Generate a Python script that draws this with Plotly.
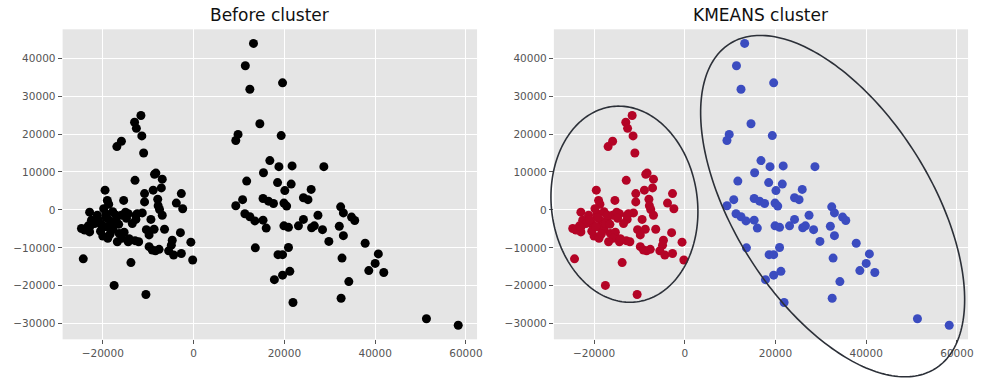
import numpy as np
import plotly.graph_objects as go

# Two groups of points (PCA-style coordinates), first group: compact cloud on the left
group_a_x = [-11600, -13000, -12600, -11400, -15900, -16900, -11000, -8300, -8600, -6900,
             -12900, -7100, -19500, -8900, -2700, -10800, -7900, -19000, -15400, -10800,
             -3800, -18700, -7800, -2400, -7500, -22900, -11300, -21200, -19300, -17800,
             -14400, -12400, -6900, -15900, -18900, -22500, -12700, -9400, -17100, -18200,
             -20400, -24700, -23600, -22900, -24000, -13500, -10400, -8700, -6400, -18900,
             -17800, -20000, -18900, -16400, -15300, -15800, -14400, -12900, -12100, -9800,
             -2900, -4700, -9800, -8400, -7600, -5500, -4400, -2700, -600, -24300,
             -200, -13800, -17500, -10500, -17100, -15000, -21800, -22900, -19300, -18000,
             -17500, -14200, -12700, -9100, -4900, -20500, -16500, -19800, -21000, -16800,
             -14800, -19600, -23200, -18400]
group_a_y = [24900, 23100, 21500, 19500, 18100, 16700, 15000, 9700, 9400, 8100,
             7800, 5800, 5200, 5200, 4300, 4300, 2800, 2500, 2500, 2100,
             1800, 1500, 1100, 300, 100, -600, -800, -1400, -1000, -500,
             -1000, -1000, -1400, -1400, -2300, -2700, -2500, -2500, -3000, -3100,
             -3800, -4900, -4900, -5800, -5300, -3600, -5200, -5100, -5100, -4500,
             -5200, -6900, -7500, -6200, -5900, -7500, -8400, -8100, -8400, -6600,
             -6000, -8000, -9700, -10800, -10400, -10800, -11900, -11500, -8500, -12900,
             -13200, -13900, -19900, -22300, -1400, -600, -3600, -4500, -2000, -4000,
             -3600, -7600, -1400, -10600, -9300, -5600, -3800, 300, -2600, -8400,
             -2200, -4400, -4200, -6400]

# Second group: wider cloud stretching to the lower right
group_b_x = [13200, 11400, 12400, 19600, 14600, 9800, 9300, 19300, 16800, 18800,
             21700, 28700, 15400, 11700, 18500, 21500, 20100, 25900, 24200, 25200,
             10800, 15300, 16500, 17600, 19900, 20500, 9300, 32400, 33000, 11300,
             12400, 13500, 15300, 16000, 19900, 20900, 23100, 24200, 27400, 26000,
             26600, 28400, 34800, 35500, 32100, 33000, 29800, 37800, 13600, 20900,
             32700, 40700, 40000, 18600, 19600, 38600, 41900, 21200, 19600, 17800,
             34200, 32500, 21900, 51300, 58300]
group_b_y = [43900, 38000, 31800, 33500, 22700, 19900, 18300, 19600, 13000, 11400,
             11600, 11400, 9800, 7600, 7200, 6800, 5100, 5400, 3200, 2700,
             2700, 3000, 2300, 1700, 1800, 1000, 1100, 800, -800, -1000,
             -1800, -2900, -2700, -4800, -4200, -4600, -4200, -2500, -1400, -4700,
             -4200, -5200, -1900, -2800, -4300, -6800, -8300, -8800, -10000, -9900,
             -12700, -11600, -14100, -11800, -11800, -16000, -16500, -16200, -17200, -18400,
             -18900, -23300, -24400, -28700, -30400]

# Outline drawn around each k-means group: centre, half extents and correlation
outline_a = dict(cx=-13300, cy=1500, hx=16200, hy=25850, rho=-0.075)
outline_b = dict(cx=32600, cy=1000, hx=29100, hy=45000, rho=-0.548)

x_ticks = [-20000, 0, 20000, 40000, 60000]
y_ticks = [-30000, -20000, -10000, 0, 10000, 20000, 30000, 40000]

titles = ["Before cluster", "KMEANS cluster"]

BG = "#E5E5E5"
TICK_COLOR = "#555555"
RED = "#B40426"
BLUE = "#3B4CC0"
W, H = 981, 378

all_x = np.array(group_a_x + group_b_x, dtype=float)
all_y = np.array(group_a_y + group_b_y, dtype=float)


def padded(v, frac=0.05):
    lo, hi = v.min(), v.max()
    pad = (hi - lo) * frac
    return [lo - pad, hi + pad]


x_range = padded(all_x)
y_range = padded(all_y)

dom_y = [1 - 339.3 / H, 1 - 29.3 / H]
dom_x1 = [63.0 / W, 480.0 / W]
dom_x2 = [557.3 / W, 974.0 / W]

fig = go.Figure()

marker_size = 9

# left: every point in black
fig.add_trace(go.Scatter(x=all_x, y=all_y, mode="markers",
                         marker=dict(color="black", size=marker_size, line=dict(width=0)),
                         xaxis="x", yaxis="y", showlegend=False, hoverinfo="skip"))
# right: coloured by k-means label
fig.add_trace(go.Scatter(x=group_a_x, y=group_a_y, mode="markers",
                         marker=dict(color=RED, size=marker_size, line=dict(width=0)),
                         xaxis="x2", yaxis="y2", showlegend=False, hoverinfo="skip"))
fig.add_trace(go.Scatter(x=group_b_x, y=group_b_y, mode="markers",
                         marker=dict(color=BLUE, size=marker_size, line=dict(width=0)),
                         xaxis="x2", yaxis="y2", showlegend=False, hoverinfo="skip"))

axis_common = dict(
    range=None, showgrid=True, gridcolor="white", gridwidth=1, zeroline=False,
    showline=False, ticks="outside", ticklen=4, tickwidth=1, tickcolor=TICK_COLOR,
    tickfont=dict(family="DejaVu Sans", size=10.5, color=TICK_COLOR),
)

xa = dict(axis_common, range=x_range, tickvals=x_ticks, ticktext=[f"{v:d}".replace("-", "\u2212") for v in x_ticks])
ya = dict(axis_common, range=y_range, tickvals=y_ticks, ticktext=[f"{v:d}".replace("-", "\u2212") for v in y_ticks])

fig.update_layout(
    width=W, height=H,
    margin=dict(l=0, r=0, t=0, b=0),
    paper_bgcolor="white", plot_bgcolor=BG,
    xaxis=dict(xa, domain=dom_x1, anchor="y"),
    yaxis=dict(ya, domain=dom_y, anchor="x"),
    xaxis2=dict(xa, domain=dom_x2, anchor="y2"),
    yaxis2=dict(ya, domain=dom_y, anchor="x2"),
)


def to_paper(x, y, dom_x):
    px = dom_x[0] + (x - x_range[0]) / (x_range[1] - x_range[0]) * (dom_x[1] - dom_x[0])
    py = dom_y[0] + (y - y_range[0]) / (y_range[1] - y_range[0]) * (dom_y[1] - dom_y[0])
    return px, py


def outline_path(o, dom_x, n=240):
    t = np.linspace(0, 2 * np.pi, n)
    ex = o["cx"] + o["hx"] * np.cos(t)
    ey = o["cy"] + o["hy"] * (o["rho"] * np.cos(t) + np.sqrt(1 - o["rho"] ** 2) * np.sin(t))
    px, py = to_paper(ex, ey, dom_x)
    pts = [f"{a:.5f},{b:.5f}" for a, b in zip(px, py)]
    return "M" + " L".join(pts) + " Z"


for o in (outline_a, outline_b):
    fig.add_shape(type="path", path=outline_path(o, dom_x2), xref="paper", yref="paper",
                  line=dict(color="#2c3038", width=1.6), fillcolor="rgba(0,0,0,0)", layer="above")

for title, dom in zip(titles, (dom_x1, dom_x2)):
    fig.add_annotation(text=title, x=(dom[0] + dom[1]) / 2, y=dom_y[1], xref="paper", yref="paper",
                       xanchor="center", yanchor="bottom", yshift=2, showarrow=False,
                       font=dict(family="DejaVu Sans", size=17, color="#111111"))

fig.write_html("out.html")
